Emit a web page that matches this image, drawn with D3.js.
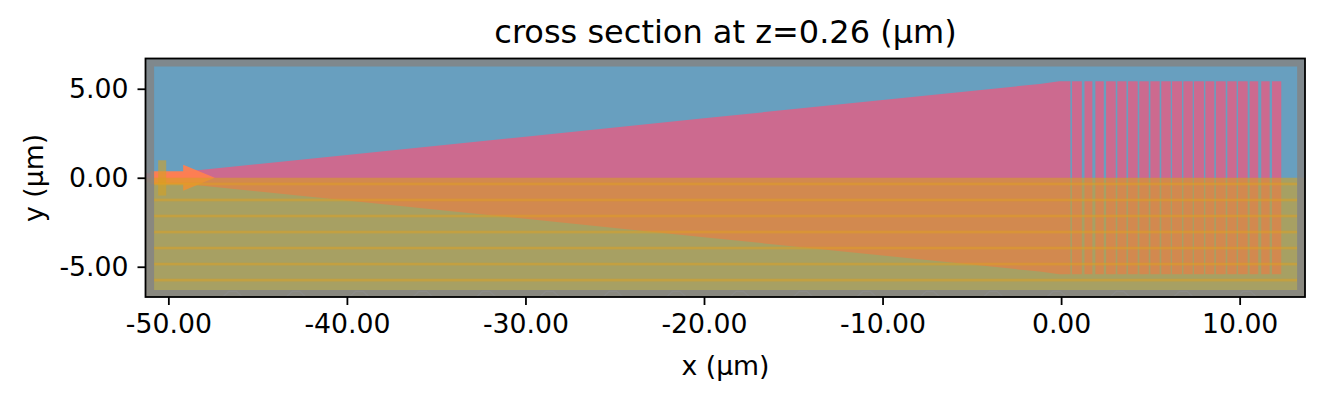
<!DOCTYPE html>
<html>
<head>
<meta charset="utf-8">
<script src="https://cdn.jsdelivr.net/npm/d3@7"></script>
<style>
    html, body { margin: 0; padding: 0; background: #fff; }
    svg { display: block; }
    text { font-family: "DejaVu Sans", sans-serif; fill: #000; }
</style>
</head>
<body>
<div id="chart"></div>
<script>
// everything in µm
const xTicks = [-50, -40, -30, -20, -10, 0, 10];
const yTicks = [-5, 0, 5];
const xDomain = [-51.28, 13.66];
const yDomain = [-6.7, 6.7];
const simBox = { x0: -50.8, x1: 13.22, y0: -6.3, y1: 6.25 };

// taper outline (upper edge), mirrored for the lower half
const taperX = [-51.3, -50, -40, -30, -20, -10, -1.2, -0.1, 0.52];
const taperY = [0.25, 0.25, 1.28, 2.31, 3.34, 4.37, 5.27, 5.42, 5.42];

// grating teeth [start, end]
const teeth = [
    [0.61, 1.16], [1.31, 1.75], [1.92, 2.39], [2.52, 3.06], [3.15, 3.66],
    [3.75, 4.29], [4.38, 4.91], [5.0, 5.52], [5.61, 6.14], [6.21, 6.77],
    [6.85, 7.37], [7.44, 8.0], [8.08, 8.58], [8.67, 9.22], [9.31, 9.83],
    [9.91, 10.45], [10.56, 11.04], [11.21, 11.68], [11.81, 12.33]
];
const toothHalfHeight = 5.42;

// horizontal stripes in the lower half
const stripeY = [-0.35, -1.25, -2.15, -3.05, -3.95, -4.85, -5.75];
const stripeThick = 0.15;

const sourceBox = { x0: -50.57, x1: -50.12, y0: -1.0, y1: 0.98 };
const arrowX = [-51.0, -49.17, -47.4];
const arrowShaft = 0.37;
const arrowHead = 0.73;

// faint marks in the PML band along the bottom edge
const pmlMarks = [-46.4, -42.85, -39.3, -35.75, -32.2, -28.65, -25.1, -21.55, -18, -14.45, -10.9, -7.35, -3.8, -0.25, 3.3, 6.85, 10.4];

const colors = {
    pml: "#848484", sim: "#689fbf", structure: "#cc6a8f",
    monitor: "#d6a121", stripe: "#e0a020", arrow: "#ff7f50"
};

const margin = { left: 145.5, right: 1305, top: 58.5, bottom: 297 };
const svg = d3.select("#chart").append("svg").attr("width", 1324).attr("height", 400);

const xScale = d3.scaleLinear().domain(xDomain).range([margin.left, margin.right]);
const yScale = d3.scaleLinear().domain(yDomain).range([margin.bottom, margin.top]);

svg.append("defs").append("clipPath").attr("id", "clip")
    .append("rect")
    .attr("x", margin.left).attr("y", margin.top)
    .attr("width", margin.right - margin.left)
    .attr("height", margin.bottom - margin.top);

const plot = svg.append("g").attr("clip-path", "url(#clip)");

function addBox(x0, x1, y0, y1, fill, opacity) {
    return plot.append("rect")
        .attr("x", xScale(x0)).attr("width", xScale(x1) - xScale(x0))
        .attr("y", yScale(y1)).attr("height", yScale(y0) - yScale(y1))
        .attr("fill", fill).attr("fill-opacity", opacity);
}

// background
addBox(xDomain[0], xDomain[1], yDomain[0], yDomain[1], colors.sim, 1);

// structure: taper and teeth
const upper = taperX.map((x, i) => [x, taperY[i]]);
const lower = taperX.map((x, i) => [x, -taperY[i]]).reverse();
plot.append("path")
    .attr("d", d3.line().x(d => xScale(d[0])).y(d => yScale(d[1]))(upper.concat(lower)) + "Z")
    .attr("fill", colors.structure);
teeth.forEach(t => addBox(t[0], t[1], -toothHalfHeight, toothHalfHeight, colors.structure, 1));

// source arrow
const arrow = [
    [arrowX[0], arrowShaft], [arrowX[1], arrowShaft], [arrowX[1], arrowHead],
    [arrowX[2], 0],
    [arrowX[1], -arrowHead], [arrowX[1], -arrowShaft], [arrowX[0], -arrowShaft]
];
plot.append("path")
    .attr("d", d3.line().x(d => xScale(d[0])).y(d => yScale(d[1]))(arrow) + "Z")
    .attr("fill", colors.arrow)
    .attr("fill-opacity", 0.95);

// lower half monitor + source plane
addBox(xDomain[0], xDomain[1], yDomain[0], 0, colors.monitor, 0.58);
addBox(sourceBox.x0, sourceBox.x1, sourceBox.y0, sourceBox.y1, colors.monitor, 0.58);

stripeY.forEach(y => addBox(simBox.x0, simBox.x1, y - stripeThick / 2, y + stripeThick / 2, colors.stripe, 0.5));

// PML frame round the simulation box
const frame = `M${margin.left},${margin.top}H${margin.right}V${margin.bottom}H${margin.left}Z`
    + `M${xScale(simBox.x0)},${yScale(simBox.y1)}V${yScale(simBox.y0)}H${xScale(simBox.x1)}V${yScale(simBox.y1)}Z`;
plot.append("path")
    .attr("d", frame)
    .attr("fill", colors.pml)
    .attr("fill-rule", "evenodd")
    .attr("fill-opacity", 0.85);

const markLine = d3.line().x(d => xScale(d[0])).y(d => yScale(d[1]));
plot.selectAll(".pmlMark")
    .data(pmlMarks)
    .enter()
    .append("path")
    .attr("class", "pmlMark")
    .attr("d", x => markLine([[x - 0.55, -6.7], [x - 0.2, -6.38], [x + 0.2, -6.38], [x + 0.55, -6.7]]))
    .attr("fill", "none")
    .attr("stroke", "#8e8e8e")
    .attr("stroke-width", 1.5)
    .attr("stroke-opacity", 0.6);

// axes
const xAxis = d3.axisBottom(xScale).tickValues(xTicks).tickSize(8).tickPadding(9).tickFormat(d => d.toFixed(2));
const yAxis = d3.axisLeft(yScale).tickValues(yTicks).tickSize(8).tickPadding(9).tickFormat(d => d.toFixed(2));

const gx = svg.append("g").attr("transform", `translate(0, ${margin.bottom})`).call(xAxis);
const gy = svg.append("g").attr("transform", `translate(${margin.left}, 0)`).call(yAxis);
[gx, gy].forEach(g => {
    g.select(".domain").remove();
    g.selectAll("line").attr("stroke", "#000").attr("stroke-width", 1.8);
    g.selectAll("text").attr("font-size", 26.7).attr("font-family", "DejaVu Sans");
});

svg.append("rect")
    .attr("x", margin.left).attr("y", margin.top)
    .attr("width", margin.right - margin.left)
    .attr("height", margin.bottom - margin.top)
    .attr("fill", "none").attr("stroke", "#000").attr("stroke-width", 1.8);

svg.append("text").attr("x", 725.5).attr("y", 43)
    .attr("text-anchor", "middle").attr("font-size", 32)
    .text("cross section at z=0.26 (µm)");
svg.append("text").attr("x", 725.5).attr("y", 375)
    .attr("text-anchor", "middle").attr("font-size", 26.7)
    .text("x (µm)");
svg.append("text")
    .attr("transform", "translate(43, 178) rotate(-90)")
    .attr("text-anchor", "middle").attr("font-size", 26.7)
    .text("y (µm)");
</script>
</body>
</html>
